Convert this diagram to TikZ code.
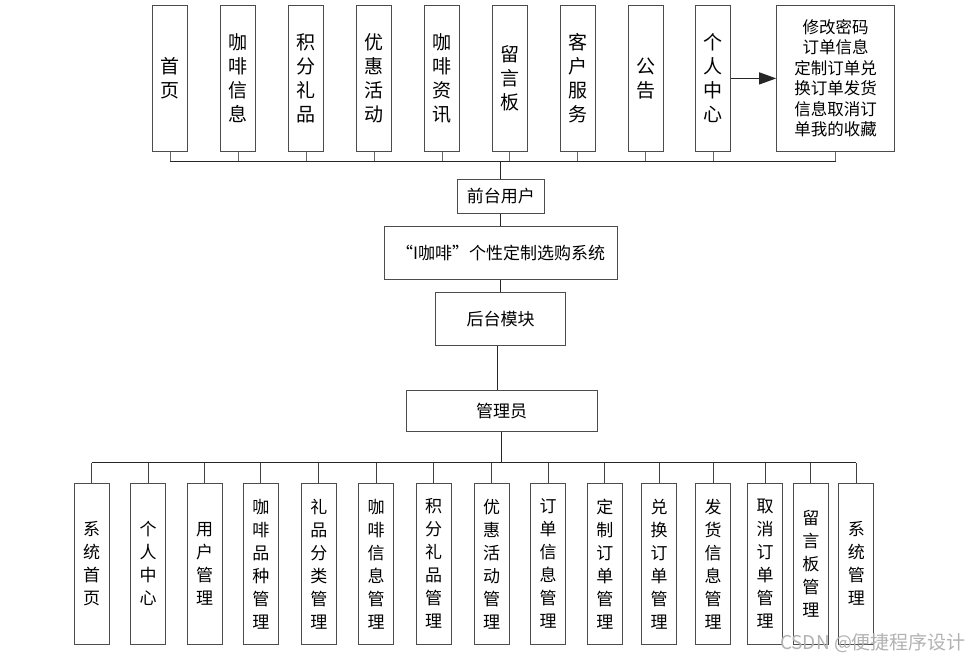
\documentclass[tikz,border=0pt]{standalone}
\usepackage{fontspec}
\newfontfamily\cjk{Noto Sans CJK SC}
\usetikzlibrary{arrows.meta}
\tikzset{
  vbox/.style={draw=black!70, line width=1pt, fill=white, minimum width=35pt, inner sep=0pt, align=center},
  topbox/.style={vbox, minimum height=145.3pt, font=\cjk\fontsize{19}{24}\selectfont},
  botbox/.style={vbox, minimum height=161pt, font=\cjk\fontsize{17}{23}\selectfont},
  midbox/.style={draw=black!70, line width=1pt, fill=white, inner sep=0pt, font=\cjk\fontsize{17}{20}\selectfont},
  conn/.style={line width=1pt, draw=black!85},
}
\begin{document}
\begin{tikzpicture}[x=1pt, y=-1pt]
\useasboundingbox (0,0) rectangle (970,662);
% top row
\node[topbox] (t1) at (170.2,78.4) {首\\页};
\node[topbox] (t2) at (238.2,78.4) {咖\\啡\\信\\息};
\node[topbox] (t3) at (306.2,78.4) {积\\分\\礼\\品};
\node[topbox] (t4) at (374,78.4) {优\\惠\\活\\动};
\node[topbox] (t5) at (442.2,78.4) {咖\\啡\\资\\讯};
\node[topbox] (t6) at (509.5,78.4) {留\\言\\板};
\node[topbox] (t7) at (577.5,78.4) {客\\户\\服\\务};
\node[topbox] (t8) at (645.5,78.4) {公\\告};
\node[topbox] (t9) at (713.2,78.4) {个\\人\\中\\心};
\node[vbox, minimum width=117.6pt, minimum height=145.3pt, font=\cjk\fontsize{16.5}{20.5}\selectfont] (t10) at (835.5,78.4)
  {修改密码\\订单信息\\定制订单兑\\换订单发货\\信息取消订\\单我的收藏};
\draw[conn, -{Triangle[length=17pt,width=12pt]}] (t9.east) -- (t10.west);
% top bus
\coordinate (tbl) at (170.2,161);
\coordinate (tbr) at (835.5,161);
\draw[conn] (tbl) -- (tbr);
\foreach \n in {t1,t2,t3,t4,t5,t6,t7,t8,t9,t10}
  \draw[conn, draw=black!60] (\n.south) -- (\n.south |- tbl);
% middle
\node[midbox, minimum width=87pt, minimum height=34pt] (front) at (500.8,196.3) {前台用户};
\node[midbox, minimum width=233.3pt, minimum height=53.3pt] (sys) at (500.7,253.3) {“I咖啡”个性定制选购系统};
\node[midbox, minimum width=129.6pt, minimum height=53.3pt] (back) at (500.5,319.3) {后台模块};
\node[midbox, minimum width=191.3pt, minimum height=41pt] (admin) at (501.7,411.2) {管理员};
\draw[conn] (front.north |- tbl) -- (front.north);
\draw[conn] (front.south) -- (front.south |- sys.north);
\draw[conn] (sys.south) -- (sys.south |- back.north);
\draw[conn] ([xshift=-2.8pt]back.south) -- ([xshift=-2.8pt]back.south |- admin.north);
% bottom row
\node[botbox] (b1) at (91.5,563.8) {系\\统\\首\\页};
\node[botbox] (b2) at (148.2,563.8) {个\\人\\中\\心};
\node[botbox] (b3) at (204.5,563.8) {用\\户\\管\\理};
\node[botbox] (b4) at (260.8,563.8) {咖\\啡\\品\\种\\管\\理};
\node[botbox] (b5) at (318.8,563.8) {礼\\品\\分\\类\\管\\理};
\node[botbox] (b6) at (376.2,563.8) {咖\\啡\\信\\息\\管\\理};
\node[botbox] (b7) at (433.5,563.8) {积\\分\\礼\\品\\管\\理};
\node[botbox] (b8) at (491.5,563.8) {优\\惠\\活\\动\\管\\理};
\node[botbox] (b9) at (548.2,563.8) {订\\单\\信\\息\\管\\理};
\node[botbox] (b10) at (604.8,563.8) {定\\制\\订\\单\\管\\理};
\node[botbox] (b11) at (659.2,563.8) {兑\\换\\订\\单\\管\\理};
\node[botbox] (b12) at (713.2,563.8) {发\\货\\信\\息\\管\\理};
\node[botbox] (b13) at (765.2,563.8) {取\\消\\订\\单\\管\\理};
\node[botbox] (b14) at (810.8,563.8) {留\\言\\板\\管\\理};
\node[botbox] (b15) at (856.4,563.8) {系\\统\\管\\理};
\coordinate (bbl) at (91.5,462.7);
\coordinate (bbr) at (856.4,462.7);
\draw[conn] (bbl) -- (bbr);
\draw[conn] (admin.south) -- (admin.south |- bbl);
\foreach \n in {b1,b2,b3,b4,b5,b6,b7,b8,b9,b10,b11,b12,b13,b14,b15}
  \draw[conn, draw=black!75] (\n.north) -- (\n.north |- bbl);
% watermark
\node[font=\cjk\fontsize{19}{21}\selectfont, text=black!30, inner sep=0pt] (wm) at (873,643) {CSDN @便捷程序设计};
\end{tikzpicture}
\end{document}
